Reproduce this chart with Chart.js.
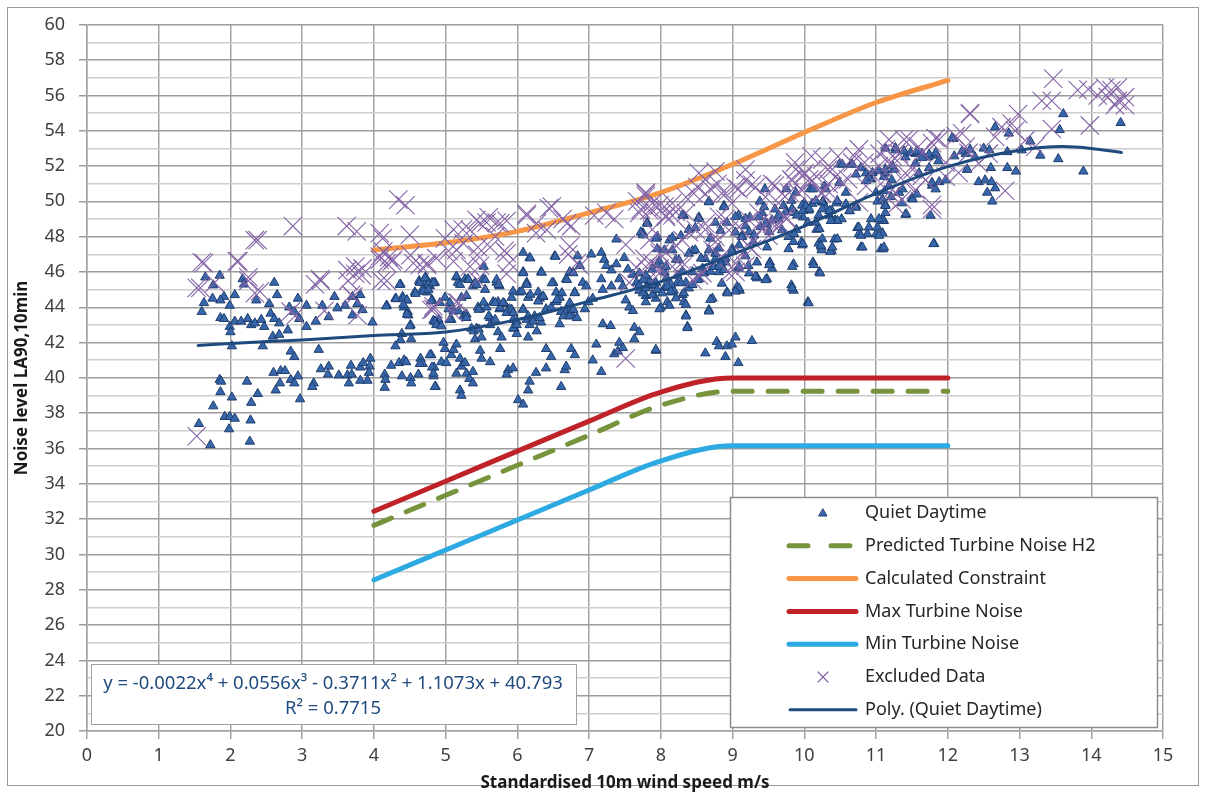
<!DOCTYPE html>
<html>
<head>
<meta charset="utf-8">
<script src="https://cdn.jsdelivr.net/npm/chart.js@4.4.1/dist/chart.umd.min.js"></script>
<style>
  html, body { margin: 0; padding: 0; background: #fff; }
  #wrap { width: 1206px; height: 793px; }
</style>
</head>
<body>
<div id="wrap"><canvas id="grafico" width="1206" height="793"></canvas></div>
<script>
// wind speed / noise level pairs
const quietDaytime = [
  [1.65,45.7],[1.85,45.8],[1.76,45.25],[1.75,44.5],[1.91,44.6],[1.86,44.4],[1.63,44.25],[1.6,43.75],
  [2.17,45.6],[2.19,45.3],[2.06,44.7],[1.99,44.1],[1.86,43.4],[1.91,43.35],[1.99,42.9],[2.0,42.6],
  [2.02,41.8],[2.06,43.2],[2.15,43.2],[2.24,43.35],[2.29,43.0],[2.36,44.4],[2.34,43.1],[2.43,43.3],
  [2.47,42.9],[2.54,44.2],[2.61,45.4],[2.65,44.7],[2.56,43.65],[2.61,43.35],[2.68,43.1],[2.8,42.7],
  [2.59,42.35],[2.68,42.45],[2.45,41.8],[2.82,44.0],[2.94,44.5],[2.89,43.75],[2.96,43.35],[3.06,42.9],
  [3.19,43.2],[3.06,44.1],[3.28,44.1],[3.37,43.45],[3.45,44.6],[3.49,43.95],[3.6,44.1],[3.7,44.6],
  [3.81,44.7],[3.77,44.2],[3.84,43.85],[3.7,43.55],[3.98,43.15],[3.23,41.6],[2.84,41.5],[2.89,41.2],
  [1.85,39.9],[1.87,39.8],[2.23,39.8],[1.86,39.2],[2.02,38.9],[2.38,39.1],[1.76,38.4],[2.29,38.6],
  [1.92,37.8],[1.99,37.8],[2.06,37.7],[2.28,37.6],[1.98,37.1],[1.56,37.4],[1.72,36.2],[2.27,36.4],
  [2.6,40.3],[2.7,40.4],[2.76,40.4],[2.69,39.7],[2.63,39.3],[2.84,39.9],[2.89,39.7],[2.94,40.1],
  [2.97,38.8],[3.16,39.7],[3.14,39.5],[3.26,40.5],[3.37,40.65],[3.36,40.2],[3.51,40.15],[3.63,40.15],
  [3.68,40.7],[3.69,40.2],[3.65,39.7],[3.81,40.6],[3.85,40.85],[3.95,41.1],[3.94,40.65],[3.93,40.3],
  [3.81,39.85],[3.91,39.85],[4.15,40.2],[4.16,39.9],[4.15,39.45],[4.24,40.7],[4.35,40.85],[4.42,41.0],
  [4.45,40.9],[4.39,40.1],[4.51,40.0],[4.52,39.7],[4.62,40.2],[4.65,41.1],[4.68,40.8],[4.8,41.3],
  [4.84,40.6],[4.83,40.1],[4.86,39.5],[4.3,41.8],[4.39,42.5],[4.37,42.15],[4.52,42.2],[4.51,43.0],
  [4.18,44.1],[4.3,44.5],[4.4,44.6],[4.46,44.4],[4.42,44.0],[4.47,43.75],[4.48,43.55],[4.57,44.85],
  [4.66,44.9],[4.37,45.3],[4.63,45.5],[4.72,45.7],[4.74,45.35],[4.81,45.4],[4.81,44.4],[4.85,43.2],
  [4.69,45.4],[4.78,45.2],[4.85,45.4],[4.74,44.85],[4.81,44.4],[4.99,44.55],[5.04,43.9],[4.83,43.25],
  [4.9,43.3],[4.88,43.05],[5.08,43.3],[5.15,45.7],[5.17,45.4],[5.27,45.6],[5.22,44.55],[5.29,44.65],
  [5.31,45.6],[5.38,45.2],[5.41,45.4],[5.52,45.6],[5.55,45.0],[5.25,43.5],[5.29,43.6],[5.45,44.0],
  [5.48,43.9],[5.57,44.0],[5.36,42.8],[5.43,42.8],[5.41,42.2],[5.5,42.3],[5.62,43.4],[5.66,44.3],
  [5.73,44.3],[5.75,43.9],[5.82,44.2],[5.73,42.6],[5.78,42.3],[5.71,45.4],[5.75,45.2],[5.92,44.55],
  [5.89,43.9],[5.94,43.3],[5.96,42.8],[5.99,42.5],[6.08,47.1],[6.17,46.8],[6.08,46.0],[6.13,45.4],
  [6.03,44.85],[6.15,44.55],[6.08,43.9],[6.13,43.3],[6.17,43.0],[6.15,42.3],[6.29,44.85],[6.31,44.5],
  [6.36,44.6],[6.33,46.0],[6.24,43.5],[6.33,43.15],[6.4,43.9],[6.47,44.0],[6.5,45.4],[6.52,46.9],
  [6.54,44.85],[6.59,44.55],[6.54,44.3],[6.61,43.75],[6.59,43.05],[6.68,45.6],[6.73,46.0],[6.68,43.75],
  [6.75,43.85],[6.77,43.5],[6.8,44.85],[6.84,46.9],[6.87,46.35],[6.91,45.4],[6.96,45.2],[6.94,43.9],
  [6.99,44.3],[7.03,47.0],[7.05,44.5],[7.17,47.1],[7.21,46.7],[7.24,46.35],[7.17,45.6],[7.19,45.0],
  [7.31,46.1],[7.31,45.2],[7.38,47.85],[7.38,46.45],[7.42,45.6],[7.47,45.2],[7.49,46.8],[7.54,46.15],
  [7.51,44.4],[7.56,44.0],[7.61,43.8],[7.61,45.85],[7.66,45.4],[7.75,48.2],[7.81,48.8],[7.7,44.95],
  [7.79,44.65],[7.84,45.5],[7.88,46.15],[7.88,45.2],[7.93,44.5],[7.95,48.0],[7.98,46.6],[8.0,44.0],
  [8.05,46.0],[8.09,45.6],[8.09,44.3],[8.12,47.8],[8.16,44.85],[8.21,46.7],[8.23,45.4],
  [4.64,40.8],[4.78,41.3],[4.81,40.6],[4.83,40.25],[4.85,39.5],[4.94,40.9],[4.99,41.65],[4.97,42.0],
  [5.01,40.85],[5.08,41.3],[5.11,41.6],[5.15,41.9],[5.15,40.25],[5.2,41.1],[5.22,40.65],[5.27,40.85],
  [5.29,40.25],[5.33,39.95],[5.38,39.7],[5.38,40.35],[5.48,41.55],[5.5,41.1],[5.62,40.9],[5.2,39.3],
  [5.22,39.0],[5.76,41.65],[5.87,40.45],[5.85,40.2],[5.94,40.55],[6.17,39.8],[6.15,39.3],[6.26,40.3],
  [6.01,38.75],[6.08,38.5],[6.4,41.65],[6.47,41.2],[6.4,40.55],[6.61,39.5],[6.66,40.45],[6.68,40.65],
  [6.75,41.65],[6.8,41.3],[7.05,41.0],[7.17,40.35],[7.1,41.9],[7.19,43.05],[7.3,42.95],[7.35,41.35],
  [7.42,42.0],[7.4,41.5],[7.47,41.7],[7.63,42.85],[7.7,42.6],[7.63,42.2],[7.93,41.55],
  [7.72,48.25],[7.93,47.9],[7.95,47.3],[8.16,47.95],[8.28,48.05],[8.32,49.2],[8.39,48.4],[8.44,47.2],
  [8.53,49.1],[8.48,48.5],[8.67,50.0],[8.76,48.8],[8.69,47.9],[8.83,48.35],[8.88,49.75],[8.92,48.8],
  [9.04,48.25],[9.08,49.2],[9.13,48.05],[9.18,48.6],[9.24,49.1],[9.29,47.7],[9.34,46.55],[9.38,50.0],
  [9.41,49.35],[9.45,50.7],[9.48,48.7],[9.48,47.4],[9.52,46.55],[9.55,46.2],[9.59,49.55],[9.64,49.0],
  [9.71,49.75],[9.75,50.7],[9.78,47.3],[9.82,50.05],[9.85,46.45],[9.87,49.35],[9.89,48.4],[9.96,47.7],
  [9.98,49.1],[10.0,49.9],[10.05,48.8],[10.08,50.7],[10.12,46.55],[10.17,48.4],[10.21,46.0],[10.24,47.4],
  [10.26,50.0],[10.28,50.85],[10.35,49.2],[10.38,47.2],[10.42,47.85],[10.45,49.9],[10.49,52.1],[10.52,49.0],
  [10.58,50.5],[10.63,49.45],[10.65,52.1],[10.72,49.75],[10.74,48.5],[10.76,48.15],[10.79,47.4],[10.86,51.6],
  [10.88,48.15],[10.93,49.0],[11.0,48.15],[11.02,50.0],[11.07,47.3],[11.11,48.9],[11.21,50.25],[11.25,51.8],
  [11.11,51.4],[10.93,51.25],
  [7.7,45.25],[7.75,44.8],[7.79,44.3],[7.88,44.7],[7.98,43.9],[8.12,44.1],[8.18,44.95],[8.3,44.7],
  [8.32,44.3],[8.35,43.55],[8.37,42.9],[7.93,41.6],[8.62,41.4],[8.78,42.05],[8.81,41.8],[8.9,41.2],
  [8.92,41.8],[8.99,41.9],[9.04,42.3],[9.08,40.85],[9.27,42.1],[8.67,43.85],[8.72,44.5],[8.85,45.35],
  [8.92,44.85],[9.06,45.15],[9.1,44.95],[9.34,45.7],[9.48,45.6],[9.82,45.25],[9.85,44.95],[10.05,44.3],
  [8.35,45.4],[8.07,45.6],[7.84,45.5],
  [7.79,45.8],[7.93,45.4],[8.05,45.1],[8.14,45.3],[8.23,45.8],[8.44,46.0],[8.53,45.6],[8.58,46.2],
  [8.62,46.75],[8.76,46.75],[8.81,46.0],[8.9,46.55],[8.99,47.3],[9.08,46.2],[9.18,46.9],[9.22,46.35],
  [11.13,53.0],[11.27,52.9],[11.41,52.5],[11.55,52.7],[11.64,52.7],[11.73,52.5],[11.85,52.6],[11.55,52.15],
  [11.6,51.6],[11.74,51.9],[11.78,50.9],[11.88,51.1],[11.97,51.2],[11.13,51.6],[11.22,51.2],[11.32,50.5],
  [11.36,49.9],[11.41,49.25],[11.5,50.2],[11.13,49.8],[11.13,49.35],[11.09,48.9],[11.09,48.2],[11.1,47.3],
  [11.76,49.2],[11.81,47.6],[12.08,53.55],[12.25,52.7],[12.38,52.5],[12.5,53.0],[12.58,52.9],[12.66,54.2],
  [12.85,53.85],[12.27,51.8],[12.43,51.1],[12.52,51.2],[12.61,51.1],[12.66,50.75],[12.55,50.5],[12.62,50.0],
  [12.6,51.9],[12.83,51.9],[12.95,51.7],[12.83,52.8],[13.03,52.9],[13.15,53.4],[13.29,52.6],[13.54,52.4],
  [13.56,54.05],[13.61,54.95],[13.89,51.7],[14.41,54.45],
  [4.36,45.28],[4.64,45.4],[4.71,45.65],[4.76,45.28],[4.83,45.37],[4.69,44.9],[4.76,45.0],[4.58,44.77],
  [4.31,44.47],[4.41,44.5],[4.46,44.4],[4.41,44.15],[4.17,44.06],[4.46,43.6],[4.8,44.35],[4.92,44.25],
  [4.5,42.93],[4.85,43.2],[4.87,43.0],[5.06,43.3],[5.11,43.78],[5.18,43.78],[5.29,43.4],[5.06,44.25],
  [5.15,45.75],[5.2,45.28],[5.32,45.56],[5.43,45.28],[5.53,46.31],[5.55,45.56],[5.71,45.56],[5.74,45.28],
  [5.53,44.28],[5.46,43.87],[5.6,43.5],[5.69,44.25],[5.76,43.97],[5.8,44.25],[5.62,43.0],[5.69,43.3],
  [5.85,43.69],[5.92,43.87],[5.94,44.9],[6.18,46.78],[6.08,45.94],[6.13,45.28],[6.06,44.9],[6.18,44.72],
  [6.29,44.34],[6.34,45.97],[6.36,44.62],[5.94,43.69],[5.99,43.22],[6.08,43.87],[6.15,43.5],[6.22,43.2],
  [6.31,43.4],[6.48,45.37],[6.53,46.87],[6.62,44.81],[6.55,44.43],[6.69,45.56],[6.78,45.94],[6.8,44.81],
  [6.73,44.25],[6.64,43.5],[6.73,43.5],[6.78,43.87],[6.83,43.4],[5.94,42.81],[5.99,43.0],[6.27,42.65],
  [5.39,42.65],[5.46,42.75],[4.94,42.93],
  [7.75,48.09],[8.05,47.24],[7.95,46.4],[8.07,46.3],[7.7,45.93],[7.75,45.55],[7.79,45.08],[7.88,45.27],
  [7.95,44.99],[8.02,44.8],[8.09,45.18],[8.14,44.9],[8.21,44.52],[8.28,45.37],[8.32,44.8],[8.39,45.08],
  [8.35,44.15],[8.44,45.27],[8.51,45.55],[8.6,45.93],[8.69,46.02],[8.74,46.3],[8.83,46.49],[8.9,46.77],
  [8.76,47.05],[8.67,47.24],[8.81,47.34],[8.99,47.15],[9.09,47.52],[9.13,47.99],[9.23,48.27],[9.3,48.09],
  [9.39,48.55],[9.46,48.74],[9.55,48.93],[9.64,49.21],[9.74,49.4],[9.83,49.59],[9.9,49.21],[9.97,49.77],
  [10.06,49.49],[10.11,49.87],[10.2,49.21],[10.29,49.68],[10.38,49.49],[10.43,48.93],[9.44,49.68],[9.37,49.12],
  [9.51,48.27],[9.69,48.37],[9.78,47.99],[9.85,47.71],[9.97,47.52],[10.2,47.62],[10.24,47.24],[10.36,47.15],
  [9.51,46.4],[9.83,46.3],[10.13,46.4],[10.22,45.93],[8.81,46.3],[8.88,46.12],[9.09,46.3],[9.23,45.93],
  [9.34,45.65],[9.46,45.55],[9.09,45.08],[9.04,44.9],[8.93,44.8],[9.32,45.74],[9.83,45.08],[10.06,44.24],
  [8.67,43.77],[8.35,43.49],[8.69,44.43],[8.37,42.83],[8.3,46.02],[8.39,47.05],[8.48,47.24],[8.56,46.77],
  [8.25,46.68],[8.16,47.24],[7.81,48.74],[8.3,49.21],[8.53,49.02],[8.67,49.96],[8.88,49.68],[9.04,49.12],
  [9.18,49.02],
  [10.53,52.09],[10.67,52.09],[10.72,51.53],[10.79,51.91],[10.9,51.34],[10.49,51.06],[10.3,50.69],[10.12,50.69],
  [9.88,50.5],[10.25,49.94],[10.16,50.03],[10.46,50.03],[10.58,49.84],[10.72,49.65],[10.02,49.75],[9.98,49.47],
  [10.07,49.56],[10.25,49.56],[10.35,49.47],[10.39,48.9],[10.46,48.9],[10.63,49.47],[10.86,51.16],[10.95,51.62],
  [11.04,51.72],[11.13,51.81],[11.23,52.0],[11.27,53.03],[11.39,52.84],[11.48,52.75],[11.57,52.84],[11.64,52.47],
  [11.74,52.66],[11.83,52.75],[11.87,52.28],[12.06,53.59],[12.09,52.56],[12.2,52.84],[12.31,52.94],[12.27,51.81],
  [11.0,50.5],[11.09,50.12],[11.12,50.59],[11.18,50.87],[11.37,50.69],[11.51,50.12],[11.57,50.4],[11.83,50.69],
  [11.78,51.06],[11.42,49.28],[11.13,49.75],[11.04,49.0],[11.02,48.53],[10.76,48.53],[10.9,48.53],[10.79,48.06],
  [11.04,48.06],[10.81,47.4],[11.11,47.4],[10.25,47.87],[10.23,47.5],[10.39,47.4],[10.46,47.87],[9.98,47.59],
  [9.86,48.15],[10.21,48.44],[10.16,48.81],[10.37,48.9],[11.8,47.59]
];

const excludedData = [
  [1.63,46.5],[1.58,45.1],[1.78,45.4],[2.11,46.6],[2.34,47.8],[2.25,45.5],[2.41,44.9],[2.87,48.6],
  [3.25,45.6],[3.18,45.3],[3.62,48.6],[3.76,48.3],[3.64,45.5],[3.74,45.9],[3.83,45.8],[4.08,48.2],
  [4.08,46.7],[4.18,45.5],[4.34,50.1],[3.71,44.6],[4.27,46.7],
  [2.38,47.8],[1.6,46.55],[2.09,46.6],[1.53,45.1],[2.25,45.7],[2.34,44.8],[3.26,45.5],[2.84,43.75],
  [2.91,43.55],[3.63,46.1],[3.74,46.3],[3.84,46.2],[3.68,44.7],[3.77,43.55],[3.31,43.8],[4.12,47.9],
  [4.21,46.85],[4.1,45.5],[4.51,46.95],[4.74,46.4],[4.8,43.85],[1.53,36.7],
  [4.83,43.9],[5.15,44.3],[5.11,48.4],[5.24,48.4],[4.99,47.9],[5.04,47.2],[5.43,48.95],[5.57,48.8],
  [5.71,48.8],[5.85,48.9],[5.45,47.4],[5.62,47.4],[5.82,47.2],[5.48,46.35],[5.85,45.9],[4.64,46.4],
  [4.74,46.5],[6.13,49.2],[6.26,48.2],[6.44,49.6],[6.63,49.0],[6.75,48.6],[6.71,47.0],[6.87,46.35],
  [7.07,49.2],[7.24,49.35],[7.35,49.0],[7.51,47.55],[7.66,46.25],[7.56,45.4],[7.67,50.0],[7.79,50.5],
  [7.7,49.35],[7.88,49.5],[8.05,49.7],[8.16,49.2],[7.88,46.5],[7.51,41.1],
  [7.79,50.3],[7.72,49.55],[7.88,49.9],[8.07,49.2],[8.16,49.9],[8.53,51.6],[8.62,51.25],[8.69,50.7],
  [8.76,51.7],[8.85,50.45],[8.46,50.45],[8.35,49.35],[8.21,47.5],[8.3,46.55],[8.53,45.8],[8.39,48.25],
  [8.62,48.4],[8.76,47.7],[8.9,49.0],[8.99,49.9],[9.08,50.7],[9.18,51.8],[9.27,50.95],[9.27,47.3],
  [9.18,46.35],[9.04,46.0],[9.36,49.35],[9.45,48.6],[9.59,50.9],[9.64,49.9],[9.75,49.0],[9.87,52.2],
  [9.82,51.25],[9.91,50.5],[10.0,51.6],[10.1,52.55],[10.17,51.4],[10.24,50.5],[10.33,51.8],[10.47,52.55],
  [10.61,51.25],[10.7,52.55],[10.84,52.2],[10.93,51.6],[11.14,52.95],[11.21,52.2],[9.5,48.05],[9.64,48.8],
  [7.88,48.4],[8.07,47.1],[7.98,46.2],[7.77,46.75],
  [11.05,52.7],[11.18,53.5],[11.32,52.7],[11.46,53.5],[11.59,53.1],[11.78,53.3],[11.88,53.5],[11.22,52.0],
  [11.41,51.6],[11.55,50.65],[11.69,51.2],[11.97,51.4],[11.78,49.8],[11.36,50.1],[11.18,50.5],[12.31,54.95],
  [12.2,53.85],[12.25,53.1],[12.43,52.15],[12.57,52.7],[12.66,53.65],[12.75,54.2],[12.89,54.4],[12.98,54.95],
  [13.08,53.45],[13.22,53.1],[12.8,50.6],[12.94,54.0],[13.31,55.7],[13.45,55.7],[13.47,56.95],[13.45,54.1],
  [13.98,54.3],[13.96,56.35],[14.19,56.45],[14.28,56.3],[14.37,56.45],[14.23,55.9],[14.37,55.7],[14.47,55.9],
  [14.33,55.45],[14.47,55.45],[14.09,56.0],[13.81,56.3],
  [4.08,46.87],[4.18,46.5],[4.25,46.6],[4.13,47.16],[4.5,48.1],[4.55,46.5],[4.87,46.78],[5.11,46.6],
  [5.15,47.25],[5.25,47.62],[5.34,48.38],[5.48,48.75],[5.6,49.1],[5.76,48.75],[5.69,48.0],[5.44,46.97],
  [5.34,46.31],[5.44,45.56],[5.85,47.06],[5.89,46.5],[6.13,49.3],[6.27,48.75],[6.48,49.7],[6.41,48.38],
  [6.69,48.75],[6.73,47.44],[6.83,46.5],[4.83,44.06],[5.18,44.25],[5.11,43.69],[4.44,49.78],
  [7.79,50.43],[7.84,49.49],[7.98,49.77],[8.07,49.12],[8.21,49.4],[8.35,50.24],[8.51,50.8],[8.62,50.43],
  [8.79,50.99],[8.9,50.43],[9.04,50.8],[9.18,51.18],[9.32,50.8],[9.46,50.24],[9.55,50.99],[9.69,50.43],
  [9.83,51.18],[9.97,50.62],[10.11,51.18],[10.24,50.43],[10.34,50.99],[10.43,51.37],[7.84,47.8],[7.98,47.05],
  [8.16,46.3],[8.3,47.8],[8.49,48.37],[8.62,48.74],[8.76,47.99],[8.81,49.12],[8.95,48.37],[9.09,48.55],
  [9.23,48.93],[9.37,48.74],[9.55,48.74],[9.64,48.55],[9.74,49.12],[9.13,47.05],[9.23,47.43],[9.04,46.49],
  [8.95,45.93],[8.72,47.24],[8.58,45.93],[8.44,45.55],[8.3,46.3],[7.98,45.93],[7.79,46.3],[8.85,46.87],
  [9.27,47.8],
  [9.88,51.81],[10.07,51.25],[10.25,52.38],[10.39,51.81],[10.53,51.06],[10.67,52.19],[10.76,52.94],[10.86,50.87],
  [11.04,52.0],[11.13,51.25],[11.27,50.5],[11.23,52.56],[11.39,53.5],[11.51,51.81],[11.64,51.44],[11.83,53.59],
  [11.97,52.19],[12.11,53.69],[12.15,51.62],[12.29,52.75],[12.31,55.0],[11.64,52.75],[11.78,49.56],[11.27,49.75],
  [11.41,51.06],[10.76,49.94],[10.35,50.5],[9.98,51.44],[9.79,50.5]
];

// lines
const lineX = [4, 5, 6, 7, 8, 9, 10, 11, 12];
const predictedH2 = [31.65, 33.35, 35.05, 36.75, 38.45, 39.25, 39.25, 39.25, 39.25];
const calcConstraint = [47.25, 47.65, 48.3, 49.35, 50.5, 52.1, 53.9, 55.6, 56.85];
const maxTurbine = [32.45, 34.15, 35.85, 37.55, 39.2, 40.0, 40.0, 40.0, 40.0];
const minTurbine = [28.55, 30.25, 31.95, 33.65, 35.3, 36.15, 36.15, 36.15, 36.15];

// trendline
const trendX = [1.55, 2, 3, 4, 5, 6, 7, 8, 9, 10, 11, 12, 13, 13.6, 14, 14.42];
const trendY = [41.83, 41.95, 42.15, 42.4, 42.6, 43.3, 44.35, 45.45, 47.0, 48.6, 50.45, 51.97, 52.9, 53.1, 53.0, 52.77];

const equationText = ['y = -0.0022x⁴ + 0.0556x³ - 0.3711x² + 1.1073x + 40.793', 'R² = 0.7715'];

const FONT = "'Noto Sans', sans-serif";
Chart.defaults.font.family = FONT;
Chart.defaults.color = '#404040';

const pares = (xs, ys) => xs.map((x, i) => ({ x: x, y: ys[i] }));
const puntos = arr => arr.map(p => ({ x: p[0], y: p[1] }));

const colores = {
  quiet: '#3767AA',
  quietBorde: '#1F3D6E',
  predicted: '#77933C',
  calc: '#F79646',
  max: '#C0222A',
  min: '#2DAAE1',
  excluded: '#8464A6',
  trend: '#1F4A7E'
};

const leyenda = [
  { label: 'Quiet Daytime', tipo: 'tri' },
  { label: 'Predicted Turbine Noise H2', tipo: 'dash', color: colores.predicted },
  { label: 'Calculated Constraint', tipo: 'line', color: colores.calc },
  { label: 'Max Turbine Noise', tipo: 'line', color: colores.max },
  { label: 'Min Turbine Noise', tipo: 'line', color: colores.min },
  { label: 'Excluded Data', tipo: 'cross' },
  { label: 'Poly. (Quiet Daytime)', tipo: 'thin', color: colores.trend }
];

const cajasPlugin = {
  id: 'cajas',
  beforeDraw(chart) {
    const ctx = chart.ctx;
    ctx.save();
    ctx.fillStyle = '#fff';
    ctx.fillRect(0, 0, chart.width, chart.height);
    ctx.strokeStyle = '#9a9a9a';
    ctx.lineWidth = 1;
    ctx.strokeRect(7.5, 7.5, chart.width - 15, chart.height - 15);
    ctx.restore();
  },
  afterDraw(chart) {
    const ctx = chart.ctx;
    ctx.save();
    // legend box
    const lx = 730, ly = 497, lw = 427, lh = 230;
    ctx.fillStyle = '#fff';
    ctx.fillRect(lx, ly, lw, lh);
    ctx.strokeStyle = '#8c8c8c';
    ctx.lineWidth = 1.5;
    ctx.strokeRect(lx + 0.5, ly + 0.5, lw, lh);
    ctx.font = '18px ' + FONT;
    ctx.textBaseline = 'middle';
    ctx.textAlign = 'left';
    leyenda.forEach((it, i) => {
      const y = 513 + i * 32.8;
      ctx.lineCap = 'round';
      if (it.tipo === 'tri') {
        ctx.beginPath();
        ctx.moveTo(823, y - 4);
        ctx.lineTo(827, y + 3);
        ctx.lineTo(819, y + 3);
        ctx.closePath();
        ctx.fillStyle = colores.quiet;
        ctx.fill();
        ctx.strokeStyle = colores.quietBorde;
        ctx.lineWidth = 1;
        ctx.stroke();
      } else if (it.tipo === 'cross') {
        ctx.strokeStyle = colores.excluded;
        ctx.lineWidth = 1.2;
        ctx.beginPath();
        ctx.moveTo(818, y - 5); ctx.lineTo(828, y + 5);
        ctx.moveTo(828, y - 5); ctx.lineTo(818, y + 5);
        ctx.stroke();
      } else {
        ctx.strokeStyle = it.color;
        ctx.lineWidth = it.tipo === 'thin' ? 3 : 5;
        if (it.tipo === 'dash') ctx.setLineDash([19, 23]);
        ctx.beginPath();
        ctx.moveTo(it.tipo === 'thin' ? 790 : 789, y);
        ctx.lineTo(856, y);
        ctx.stroke();
        ctx.setLineDash([]);
      }
      ctx.fillStyle = '#262626';
      ctx.fillText(it.label, 865, y);
    });
    // equation box
    ctx.fillStyle = '#fff';
    ctx.fillRect(91, 664, 485, 60);
    ctx.strokeStyle = '#a0a0a0';
    ctx.lineWidth = 1;
    ctx.strokeRect(91.5, 664.5, 485, 60);
    ctx.font = '18.5px ' + FONT;
    ctx.fillStyle = '#1F4A7E';
    ctx.textAlign = 'center';
    ctx.fillText(equationText[0], 333, 684);
    ctx.fillText(equationText[1], 333, 709);
    ctx.restore();
  }
};

const lineaBase = {
  showLine: true,
  pointRadius: 0,
  pointHoverRadius: 0,
  borderWidth: 5,
  borderCapStyle: 'round',
  cubicInterpolationMode: 'monotone',
  fill: false
};

const grafico = new Chart(document.getElementById('grafico'), {
  type: 'scatter',
  data: {
    datasets: [
      {
        label: 'Poly. (Quiet Daytime)',
        data: pares(trendX, trendY),
        ...lineaBase,
        borderWidth: 3,
        borderColor: colores.trend,
        order: 0
      },
      {
        label: 'Excluded Data',
        data: puntos(excludedData),
        pointStyle: 'crossRot',
        pointRadius: 13,
        borderWidth: 1.1,
        borderColor: colores.excluded,
        backgroundColor: colores.excluded,
        order: 1
      },
      {
        label: 'Min Turbine Noise',
        data: pares(lineX, minTurbine),
        ...lineaBase,
        borderColor: colores.min,
        order: 2
      },
      {
        label: 'Max Turbine Noise',
        data: pares(lineX, maxTurbine),
        ...lineaBase,
        borderColor: colores.max,
        order: 3
      },
      {
        label: 'Calculated Constraint',
        data: pares(lineX, calcConstraint),
        ...lineaBase,
        borderColor: colores.calc,
        order: 4
      },
      {
        label: 'Predicted Turbine Noise H2',
        data: pares(lineX, predictedH2),
        ...lineaBase,
        borderColor: colores.predicted,
        borderDash: [19, 16],
        order: 5
      },
      {
        label: 'Quiet Daytime',
        data: puntos(quietDaytime),
        pointStyle: 'triangle',
        pointRadius: 5.4,
        borderWidth: 1,
        backgroundColor: colores.quiet,
        borderColor: colores.quietBorde,
        order: 6
      }
    ]
  },
  options: {
    responsive: false,
    animation: false,
    devicePixelRatio: 1,
    layout: { padding: { top: 20, right: 43, left: 0, bottom: 0 } },
    plugins: {
      legend: { display: false },
      tooltip: { enabled: false }
    },
    scales: {
      x: {
        type: 'linear',
        min: 0,
        max: 15,
        afterFit: s => { s.height = 62; },
        ticks: { stepSize: 1, padding: 6, font: { size: 18 }, color: '#404040', maxRotation: 0 },
        grid: { color: '#a3a3a3', lineWidth: 1.5, tickLength: 8, tickColor: '#a3a3a3' },
        border: { color: '#a3a3a3', width: 1.5 },
        title: {
          display: true,
          text: 'Standardised 10m wind speed m/s',
          font: { size: 17, weight: 'bold' },
          color: '#1a1a1a',
          padding: { top: 6, bottom: 0 }
        }
      },
      y: {
        type: 'linear',
        min: 20,
        max: 60,
        afterFit: s => { s.width = 87; },
        ticks: {
          stepSize: 1,
          autoSkip: false,
          padding: 14,
          font: { size: 18 },
          color: '#404040',
          callback: v => (v % 2 === 0 ? v : '')
        },
        grid: {
          color: c => (c.tick && c.tick.value % 2 === 0 ? '#9c9c9c' : '#cdcdcd'),
          tickColor: c => (c.tick && c.tick.value % 2 === 0 ? '#9c9c9c' : 'rgba(0,0,0,0)'),
          lineWidth: 1.5,
          tickLength: 8
        },
        border: { color: '#a3a3a3', width: 1.5 },
        title: {
          display: true,
          text: 'Noise level LA90,10min',
          font: { size: 17, weight: 'bold' },
          color: '#1a1a1a',
          padding: { top: 12, bottom: 0 }
        }
      }
    }
  },
  plugins: [cajasPlugin]
});
</script>
</body>
</html>
